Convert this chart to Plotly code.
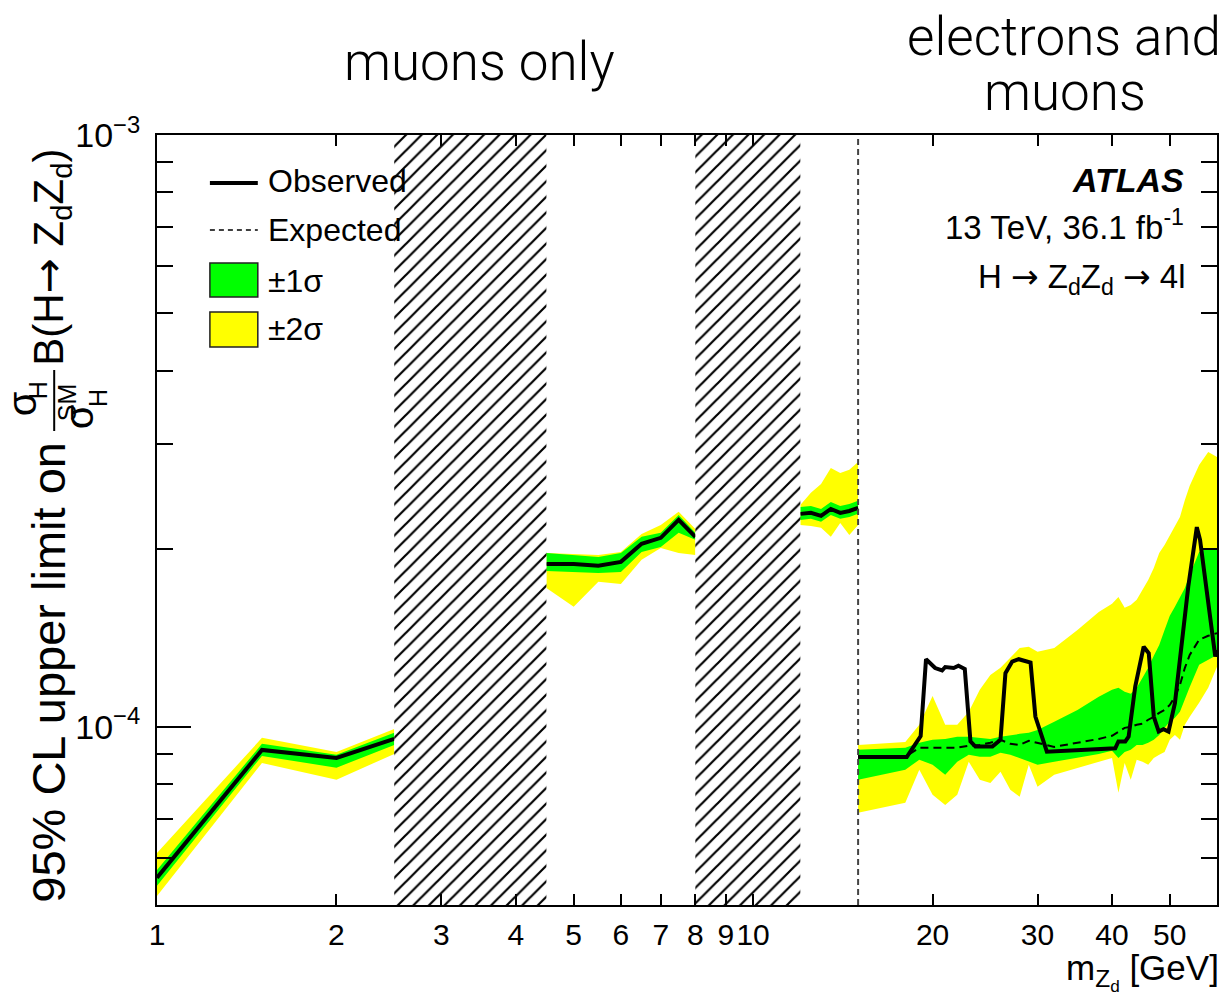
import math
import plotly.graph_objects as go

# ---------------- data (limits in units of 1e-4) ----------------
UNIT = 1e-4

# low-mass region, muons only
mass_a = [1.0, 1.5, 2.0, 2.5]
obs_a = [0.556, 0.914, 0.886, 0.954]
exp_a = [0.556, 0.914, 0.886, 0.954]
g_lo_a = [0.539, 0.893, 0.853, 0.932]
g_hi_a = [0.573, 0.936, 0.897, 0.977]
y_lo_a = [0.518, 0.869, 0.814, 0.900]
y_hi_a = [0.612, 0.958, 0.907, 0.992]

mass_b = [4.5, 5.0, 5.5, 6.0, 6.5, 7.0, 7.5, 8.0]
obs_b = [1.885, 1.885, 1.871, 1.900, 2.038, 2.086, 2.237, 2.094]
exp_b = [1.885, 1.885, 1.871, 1.900, 2.038, 2.086, 2.237, 2.094]
g_lo_b = [1.834, 1.827, 1.820, 1.827, 1.975, 2.014, 2.127, 2.070]
g_hi_b = [1.967, 1.952, 1.937, 1.967, 2.094, 2.127, 2.281, 2.127]
y_lo_b = [1.717, 1.595, 1.758, 1.744, 1.915, 2.006, 1.967, 1.952]
y_hi_b = [1.967, 1.960, 1.952, 1.975, 2.118, 2.194, 2.308, 2.160]

mass_c = [12.0, 12.5, 13.0, 13.5, 14.0, 14.5, 15.0]
obs_c = [2.290, 2.299, 2.272, 2.334, 2.299, 2.316, 2.344]
exp_c = [2.290, 2.299, 2.272, 2.334, 2.299, 2.316, 2.344]
g_lo_c = [2.237, 2.246, 2.220, 2.281, 2.246, 2.263, 2.290]
g_hi_c = [2.353, 2.362, 2.334, 2.399, 2.362, 2.380, 2.409]
y_lo_c = [2.194, 2.185, 2.169, 2.094, 2.211, 2.110, 2.194]
y_hi_c = [2.371, 2.485, 2.573, 2.738, 2.686, 2.718, 2.803]

# high-mass region, electrons and muons
mass_d = [15, 18, 19, 20, 21, 22, 23, 24, 25, 26, 27, 28, 29, 30, 32, 35, 38,
          40, 41, 42, 43, 44, 45, 46, 47, 48, 49, 50, 51, 52, 53, 54, 56, 58, 60]
exp_d = [0.890, 0.890, 0.922, 0.922, 0.922, 0.922, 0.929, 0.932, 0.940, 0.951,
         0.936, 0.932, 0.947, 0.940, 0.925, 0.940, 0.954, 0.966, 0.981, 0.996,
         1.000, 1.008, 1.012, 1.028, 1.040, 1.056, 1.068, 1.089, 1.124, 1.177,
         1.258, 1.323, 1.403, 1.425, 1.440]
g_lo_d = [0.814, 0.846, 0.880, 0.863, 0.830, 0.873, 0.897, 0.890, 0.890, 0.904,
          0.897, 0.886, 0.873, 0.863, 0.873, 0.886, 0.900, 0.911, 0.886, 0.907,
          0.915, 0.932, 0.932, 0.940, 0.951, 0.969, 0.996, 1.020, 1.036, 1.060,
          1.111, 1.168, 1.273, 1.298, 1.323]
g_hi_d = [0.915, 0.922, 0.940, 0.951, 0.954, 0.962, 0.962, 0.958, 0.954, 0.962,
          0.969, 0.973, 0.977, 0.988, 1.020, 1.068, 1.124, 1.155, 1.164, 1.146,
          1.137, 1.164, 1.210, 1.258, 1.318, 1.375, 1.458, 1.540, 1.595, 1.652,
          1.717, 1.806, 1.975, 2.006, 2.006]
y_lo_d = [0.716, 0.744, 0.846, 0.768, 0.738, 0.768, 0.873, 0.814, 0.804, 0.840,
          0.783, 0.762, 0.863, 0.792, 0.830, 0.853, 0.873, 0.886, 0.774, 0.869,
          0.814, 0.880, 0.873, 0.863, 0.886, 0.897, 0.907, 0.951, 0.969, 0.951,
          1.008, 1.040, 1.098, 1.164, 1.263]
y_hi_d = [0.932, 0.943, 1.008, 1.128, 1.008, 1.008, 1.060, 1.155, 1.224, 1.258,
          1.308, 1.359, 1.365, 1.339, 1.359, 1.458, 1.564, 1.614, 1.658, 1.589,
          1.607, 1.639, 1.705, 1.771, 1.856, 1.967, 2.029, 2.102, 2.177, 2.263,
          2.417, 2.554, 2.770, 2.914, 2.858]
obs_mass_d = [15.0, 18.1, 19.1, 19.5, 20.2, 20.75, 21.0, 21.7, 22.1, 22.65, 23.15,
              23.6, 25.2, 26.0, 26.5, 27.2, 27.9, 29.2, 29.75, 31.1, 40.5, 41.0,
              42.1, 42.65, 43.75, 45.2, 46.1, 47.0, 47.9, 48.8, 49.75, 51.0, 53.7,
              55.5, 56.2, 59.6, 60.0]
obs_d = [0.889, 0.889, 0.965, 1.301, 1.257, 1.245, 1.262, 1.257, 1.268, 1.252,
         0.945, 0.926, 0.926, 0.951, 1.232, 1.289, 1.301, 1.284, 1.041, 0.908,
         0.920, 0.945, 0.945, 0.963, 1.170, 1.366, 1.331, 1.041, 0.982, 0.991,
         0.982, 1.096, 1.726, 2.175, 2.070, 1.315, 1.349]

# vetoed (quarkonia) mass windows and channel boundary
veto_lo = [2.5, 8.0]
veto_hi = [4.5, 12.0]
channel_boundary = 15.0

x_min, x_max = 1.0, 60.0
y_min, y_max = 5e-5, 1e-3
xtick_vals = [1, 2, 3, 4, 5, 6, 7, 8, 9, 10, 20, 30, 40, 50]
xtick_text = ["1", "2", "3", "4", "5", "6", "7", "8", "9", "10", "20", "30", "40", "50"]
ytick_vals = [1e-4, 1e-3]
ytick_text = ["10<sup>\u22124</sup>", "10<sup>\u22123</sup>"]
yminor_vals = [6e-5, 7e-5, 8e-5, 9e-5, 2e-4, 3e-4, 4e-4, 5e-4, 6e-4, 7e-4, 8e-4, 9e-4]

GREEN = "#00ff00"
YELLOW = "#ffff00"

# ---------------- figure geometry ----------------
W, H = 1231, 997
ML, MR, MT, MB = 157, 12, 135, 92
PW, PH = W - ML - MR, H - MT - MB


def px(xp):
    return (xp - ML) / PW


def py(yp):
    return (H - MB - yp) / PH


def sc(vals):
    return [v * UNIT for v in vals]


fig = go.Figure()

segments = [
    (mass_a, obs_a, exp_a, g_lo_a, g_hi_a, y_lo_a, y_hi_a, mass_a),
    (mass_b, obs_b, exp_b, g_lo_b, g_hi_b, y_lo_b, y_hi_b, mass_b),
    (mass_c, obs_c, exp_c, g_lo_c, g_hi_c, y_lo_c, y_hi_c, mass_c),
    (mass_d, obs_d, exp_d, g_lo_d, g_hi_d, y_lo_d, y_hi_d, obs_mass_d),
]


def band(mass, lo, hi, color):
    fig.add_trace(go.Scatter(
        x=list(mass) + list(mass)[::-1],
        y=sc(hi) + sc(lo)[::-1],
        fill="toself", fillcolor=color, mode="lines",
        line=dict(width=0, color=color), hoverinfo="skip", showlegend=False))


for m, o, e, gl, gh, yl, yh, om in segments:
    band(m, yl, yh, YELLOW)
for m, o, e, gl, gh, yl, yh, om in segments:
    band(m, gl, gh, GREEN)
for m, o, e, gl, gh, yl, yh, om in segments:
    fig.add_trace(go.Scatter(x=m, y=sc(e), mode="lines",
                             line=dict(color="black", width=2, dash="8px,5px"),
                             showlegend=False, hoverinfo="skip"))
for m, o, e, gl, gh, yl, yh, om in segments:
    fig.add_trace(go.Scatter(x=om, y=sc(o), mode="lines",
                             line=dict(color="black", width=4),
                             showlegend=False, hoverinfo="skip"))

for lo, hi in zip(veto_lo, veto_hi):
    fig.add_trace(go.Scatter(
        x=[lo, hi, hi, lo, lo], y=[y_min, y_min, y_max, y_max, y_min],
        fill="toself", fillcolor="white", mode="lines",
        fillpattern=dict(shape="/", size=11, solidity=0.2, fgopacity=1,
                         fgcolor="black", bgcolor="white"),
        line=dict(width=0, color="rgba(0,0,0,0)"),
        showlegend=False, hoverinfo="skip"))

fig.add_shape(type="line", xref="x", yref="paper", x0=channel_boundary,
              x1=channel_boundary, y0=0, y1=1,
              line=dict(color="#444444", width=2, dash="6px,4px"))

FONT = "Liberation Sans, Arial, Helvetica, sans-serif"
ARROW = '<span style="font-family:DejaVu Sans">\u2192</span>'

fig.update_layout(
    width=W, height=H, margin=dict(l=ML, r=MR, t=MT, b=MB),
    paper_bgcolor="white", plot_bgcolor="white", showlegend=False,
    font=dict(family=FONT, color="black", size=30),
)
fig.update_xaxes(
    type="log", range=[math.log10(x_min), math.log10(x_max)],
    tickmode="array", tickvals=xtick_vals, ticktext=xtick_text,
    ticks="inside", ticklen=11, tickwidth=2, tickcolor="black",
    showline=True, linewidth=2, linecolor="black", mirror="ticks",
    showgrid=False, zeroline=False, tickfont=dict(size=30, family=FONT),
    ticklabelstandoff=2,
)
fig.update_yaxes(
    type="log", range=[math.log10(y_min), math.log10(y_max)],
    tickmode="array", tickvals=ytick_vals, ticktext=ytick_text,
    ticks="inside", ticklen=34, tickwidth=2, tickcolor="black",
    minor=dict(tickmode="array", tickvals=yminor_vals, ticks="inside",
               ticklen=16, tickwidth=2, tickcolor="black", showgrid=False),
    showline=True, linewidth=2, linecolor="black", mirror="ticks",
    showgrid=False, zeroline=False, tickfont=dict(size=34, family=FONT),
    ticklabelstandoff=8,
)

# ---------------- legend (drawn manually) ----------------
fig.add_shape(type="line", xref="paper", yref="paper", x0=px(210), x1=px(258),
              y0=py(183), y1=py(183), line=dict(color="black", width=4))
fig.add_shape(type="line", xref="paper", yref="paper", x0=px(210), x1=px(258),
              y0=py(230), y1=py(230), line=dict(color="black", width=1.5, dash="5px,4px"))
fig.add_shape(type="rect", xref="paper", yref="paper", x0=px(210), x1=px(258),
              y0=py(297), y1=py(263), fillcolor=GREEN, line=dict(color="#222", width=1.5))
fig.add_shape(type="rect", xref="paper", yref="paper", x0=px(210), x1=px(258),
              y0=py(347), y1=py(312), fillcolor=YELLOW, line=dict(color="#222", width=1.5))
for txt, yy in [("Observed", 181), ("Expected", 230), ("\u00b11\u03c3", 281), ("\u00b12\u03c3", 329)]:
    fig.add_annotation(xref="paper", yref="paper", x=px(266), y=py(yy), text=txt,
                       showarrow=False, xanchor="left", yanchor="middle",
                       font=dict(size=32, family=FONT))

# ---------------- ATLAS labels ----------------
fig.add_annotation(xref="paper", yref="paper", x=px(1188), y=py(180),
                   text="<b><i>ATLAS</i></b>", showarrow=False, xanchor="right",
                   yanchor="middle", font=dict(size=34, family=FONT))
fig.add_annotation(xref="paper", yref="paper", x=px(1188), y=py(225),
                   text="13 TeV, 36.1 fb<sup>-1</sup>", showarrow=False, xanchor="right",
                   yanchor="middle", font=dict(size=33, family=FONT))
fig.add_annotation(xref="paper", yref="paper", x=px(1190), y=py(278),
                   text="H " + ARROW + " Z<sub>d</sub>Z<sub>d</sub> " + ARROW + " 4l",
                   showarrow=False, xanchor="right", yanchor="middle",
                   font=dict(size=33, family=FONT))

# ---------------- region labels ----------------
THIN = "Roboto, Lato, Liberation Sans, sans-serif"
fig.add_annotation(xref="paper", yref="paper", x=px(480), y=py(62), text="muons only",
                   showarrow=False, xanchor="center", yanchor="middle",
                   font=dict(size=53, family=THIN, weight=300))
fig.add_annotation(xref="paper", yref="paper", x=px(1066), y=py(37), text="electrons and",
                   showarrow=False, xanchor="center", yanchor="middle", borderpad=0,
                   font=dict(size=53, family=THIN, weight=300))
fig.add_annotation(xref="paper", yref="paper", x=px(1067), y=py(92), text="muons",
                   showarrow=False, xanchor="center", yanchor="middle", borderpad=0,
                   font=dict(size=53, family=THIN, weight=300))

# ---------------- axis titles ----------------
fig.add_annotation(xref="paper", yref="paper", x=px(1222), y=py(972),
                   text="m<sub>Z<sub>d</sub></sub> [GeV]", showarrow=False,
                   xanchor="right", yanchor="middle", borderpad=0,
                   font=dict(size=35, family=FONT))

fig.add_annotation(xref="paper", yref="paper", x=px(48), y=py(905),
                   text="95% CL upper limit on", textangle=-90, showarrow=False,
                   xanchor="center", yanchor="bottom", font=dict(size=47, family=FONT))
fig.add_annotation(xref="paper", yref="paper", x=px(22), y=py(404), text="\u03c3",
                   textangle=-90, showarrow=False, xanchor="center", yanchor="middle",
                   font=dict(size=40, family=FONT))
fig.add_annotation(xref="paper", yref="paper", x=px(38), y=py(390), text="H",
                   textangle=-90, showarrow=False, xanchor="center", yanchor="middle",
                   font=dict(size=25, family=FONT))
fig.add_shape(type="line", xref="paper", yref="paper", x0=px(54), x1=px(54),
              y0=py(431), y1=py(370), line=dict(color="black", width=2))
fig.add_annotation(xref="paper", yref="paper", x=px(79), y=py(417), text="\u03c3",
                   textangle=-90, showarrow=False, xanchor="center", yanchor="middle",
                   font=dict(size=40, family=FONT))
fig.add_annotation(xref="paper", yref="paper", x=px(67), y=py(402), text="SM",
                   textangle=-90, showarrow=False, xanchor="center", yanchor="middle",
                   font=dict(size=25, family=FONT))
fig.add_annotation(xref="paper", yref="paper", x=px(98), y=py(398), text="H",
                   textangle=-90, showarrow=False, xanchor="center", yanchor="middle",
                   font=dict(size=25, family=FONT))
fig.add_annotation(xref="paper", yref="paper", x=px(50), y=py(368),
                   text="B(H" + ARROW + " Z<sub>d</sub>Z<sub>d</sub>)", textangle=-90,
                   showarrow=False, xanchor="center", yanchor="bottom",
                   font=dict(size=42, family=FONT))

fig.write_html("out.html", config={"displayModeBar": False},
               post_script="document.body.style.margin='0';")
